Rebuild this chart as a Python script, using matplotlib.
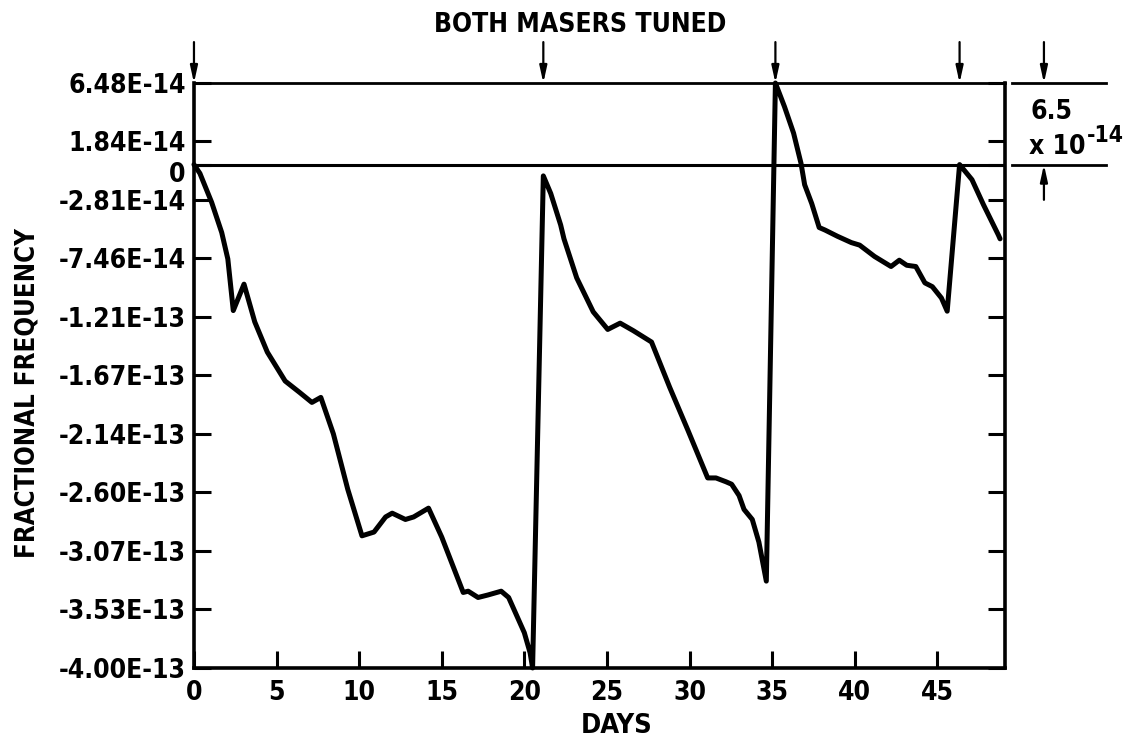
import numpy as np
import matplotlib
matplotlib.use('Agg')
import matplotlib.pyplot as plt
from matplotlib import font_manager as fm
from matplotlib.transforms import ScaledTranslation

# look for a condensed bold face, like the scanned lettering
def is_condensed(f):
    st = str(f.stretch).lower()
    return ('narrow' in f.name.lower() or 'condensed' in f.name.lower()
            or 'condensed' in st or st in ('62', '75', '87'))

def is_bold(f):
    w = f.weight
    if isinstance(w, str):
        return w in ('bold', 'heavy', 'black', 'semibold', 'demibold', 'extra bold')
    return w >= 600

cands = [f for f in fm.fontManager.ttflist if is_condensed(f)]
bold_cands = [f for f in cands if is_bold(f)]
pick = (bold_cands or cands or [None])[0]
if pick is not None:
    plt.rcParams['font.family'] = [pick.name, 'DejaVu Sans']
    plt.rcParams['font.stretch'] = pick.stretch
    scale = 1.0
else:
    plt.rcParams['font.family'] = ['DejaVu Sans']
    scale = 0.82
plt.rcParams['font.weight'] = 'bold'

# data (frequency in units of 1e-14)
days = [0.0, 0.36, 1.07, 1.68, 2.05, 2.38, 3.03, 3.68, 4.44, 5.52, 6.39, 7.14, 7.68,
        8.44, 9.31, 10.17, 10.9, 11.6, 12.0, 12.8, 13.3, 14.2, 15.0, 16.3, 16.6,
        17.2, 17.8, 18.6, 19.05, 20.0, 20.35, 20.5,
        21.15, 21.6, 22.2, 22.4, 23.17, 24.17, 25.05, 25.8, 26.6, 27.7, 28.8, 29.9,
        31.1, 31.6, 32.2, 32.55, 33.0, 33.3, 33.8, 34.2, 34.65,
        35.2, 35.75, 36.3, 36.75, 36.97, 37.4, 37.85, 38.2, 38.96, 39.8, 40.3, 41.2,
        42.2, 42.7, 43.15, 43.7, 44.25, 44.7, 45.25, 45.6,
        46.35, 47.1, 47.8, 48.7, 48.8]
freq = [0.0, -0.7, -3.0, -5.4, -7.5, -11.6, -9.5, -12.5, -14.9, -17.2, -18.1, -18.9, -18.5,
        -21.4, -25.8, -29.5, -29.2, -28.0, -27.7, -28.2, -28.0, -27.3, -29.6, -34.0, -33.9,
        -34.4, -34.2, -33.9, -34.4, -37.2, -38.8, -40.0,
        -0.9, -2.3, -4.8, -5.9, -9.0, -11.7, -13.1, -12.6, -13.2, -14.1, -17.7, -21.1,
        -24.9, -24.9, -25.2, -25.4, -26.3, -27.4, -28.2, -30.0, -33.1,
        6.48, 4.6, 2.5, 0.1, -1.6, -3.1, -5.0, -5.2, -5.7, -6.2, -6.4, -7.3,
        -8.1, -7.6, -8.0, -8.1, -9.4, -9.7, -10.6, -11.65,
        0.0, -1.2, -3.2, -5.6, -5.9]

y_ticks = [6.48e-14, 1.84e-14, 0, -2.81e-14, -7.46e-14, -1.21e-13, -1.67e-13,
           -2.14e-13, -2.60e-13, -3.07e-13, -3.53e-13, -4.00e-13]
y_tick_labels = ['6.48E-14', '1.84E-14', '0', '-2.81E-14', '-7.46E-14', '-1.21E-13',
                 '-1.67E-13', '-2.14E-13', '-2.60E-13', '-3.07E-13', '-3.53E-13', '-4.00E-13']
x_ticks = [0, 5, 10, 15, 20, 25, 30, 35, 40, 45]
tuned_days = [0, 21.15, 35.2, 46.35]

fig = plt.figure(figsize=(11.31, 7.44), dpi=100)
ax = fig.add_axes([0.1715, 0.1022, 0.7171, 0.7862])

ax.plot(days, np.array(freq) * 1e-14, color='black', lw=3.6,
        solid_joinstyle='round', solid_capstyle='round', clip_on=False, zorder=3)
ax.axhline(0, color='black', lw=2.2)

ax.set_xlim(0, 49.1)
ax.set_ylim(-4.0e-13, 6.48e-14)
ax.set_xticks(x_ticks)
ax.set_yticks(y_ticks)
ax.set_yticklabels(y_tick_labels)

fs = 19 * scale
ax.tick_params(direction='in', length=12.5, width=2.2, labelsize=fs, right=True, top=False)
ax.tick_params(axis='y', pad=6)
ax.tick_params(axis='x', pad=9)
for s in ax.spines.values():
    s.set_linewidth(2.6)
ax.spines['top'].set_linewidth(2.0)

# the "0" label sits a little below its line in the original
zero_lab = ax.get_yticklabels()[2]
zero_lab.set_transform(zero_lab.get_transform() + ScaledTranslation(0, -7 / 100, fig.dpi_scale_trans))

# tuning arrows above the plot
arrow_kw = dict(arrowstyle='-|>,head_length=1.0,head_width=0.22',
                color='black', lw=1.6, shrinkA=0, shrinkB=0)
for d in tuned_days:
    ax.annotate('', xy=(d, 1.0), xycoords=('data', 'axes fraction'),
                xytext=(d, 1.07), textcoords=('data', 'axes fraction'),
                arrowprops=arrow_kw, annotation_clip=False)

# scale bar on the right
trans = ax.get_yaxis_transform()
ax.plot([1.0086, 1.1245], [6.48e-14, 6.48e-14], transform=trans, clip_on=False, color='black', lw=2)
ax.plot([1.0086, 1.1245], [0, 0], transform=trans, clip_on=False, color='black', lw=2)
ax.annotate('', xy=(1.048, 1.0), xycoords='axes fraction',
            xytext=(1.048, 1.07), textcoords='axes fraction',
            arrowprops=arrow_kw, annotation_clip=False)
ax.annotate('', xy=(1.048, 0), xycoords=('axes fraction', 'data'),
            xytext=(1.048, -2.8e-14), textcoords=('axes fraction', 'data'),
            arrowprops=arrow_kw, annotation_clip=False)
fig.text(0.9107, 0.8495, '6.5', fontsize=fs, va='center', ha='left')
t10 = fig.text(0.9098, 0.8024, 'x 10', fontsize=fs, va='center', ha='left')
fig.canvas.draw()
bb = t10.get_window_extent()
fig.text((bb.x1 + 1) / fig.bbox.width, 0.8185, '-14', fontsize=16.5 * scale, va='center', ha='left')

fig.text(0.5128, 0.966, 'BOTH MASERS TUNED', fontsize=19 * scale, ha='center', va='center')
fig.text(0.5455, 0.0242, 'DAYS', fontsize=19.5 * scale, ha='center', va='center')
fig.text(0.0239, 0.4718, 'FRACTIONAL FREQUENCY', fontsize=18.5 * scale, ha='center', va='center',
         rotation=90)

fig.savefig('out.png', dpi=100)
